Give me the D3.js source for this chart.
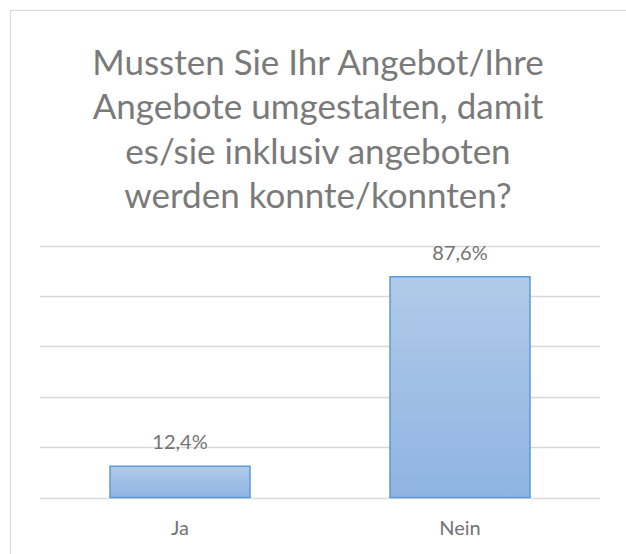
<!DOCTYPE html>
<html>
<head>
<meta charset="utf-8">
<script src="https://cdn.jsdelivr.net/npm/d3@7"></script>
<style>
  html, body { margin: 0; padding: 0; background: #fff; }
  svg { display: block; }
</style>
</head>
<body>
<svg id="chart" width="626" height="554"></svg>
<script>
// Survey answers and their shares in percent
const categories = ["Ja", "Nein"];
const values = [12.4, 87.6];
const valueLabels = ["12,4%", "87,6%"];
const gridTicks = [0, 20, 40, 60, 80, 100];
const titleLines = [
  "Mussten Sie Ihr Angebot/Ihre",
  "Angebote umgestalten, damit",
  "es/sie inklusiv angeboten",
  "werden konnte/konnten?"
];

const font = "Lato, 'Open Sans', sans-serif";
const textColor = "#737373";

const svg = d3.select("#chart");

// chart area frame (runs off the right and bottom edges)
svg.append("rect")
  .attr("x", 10.5).attr("y", 10.5)
  .attr("width", 640).attr("height", 600)
  .attr("fill", "#fff")
  .attr("stroke", "#d9d9d9")
  .attr("stroke-width", 1.2);

// gradient fill for the bars
const defs = svg.append("defs");
const grad = defs.append("linearGradient")
  .attr("id", "barFill")
  .attr("x1", 0).attr("y1", 0).attr("x2", 0).attr("y2", 1);
grad.append("stop").attr("offset", "0%").attr("stop-color", "#b1cae9");
grad.append("stop").attr("offset", "100%").attr("stop-color", "#8fb4e2");

// title
svg.append("text")
  .attr("x", 318)
  .attr("y", 75)
  .attr("text-anchor", "middle")
  .attr("font-family", font)
  .attr("font-size", 35)
  .attr("fill", "#7a7a7a")
  .selectAll("tspan")
  .data(titleLines)
  .join("tspan")
  .attr("x", 318)
  .attr("dy", (d, i) => i === 0 ? 0 : 44.4)
  .text(d => d);

// scales
const x = d3.scaleBand()
  .domain(categories)
  .range([40, 600])
  .paddingInner(0.5)
  .paddingOuter(0.25);

const y = d3.scaleLinear()
  .domain([0, 100])
  .range([497.5, 245.5]);

// horizontal gridlines
svg.append("g")
  .selectAll("line")
  .data(gridTicks)
  .join("line")
  .attr("x1", 40).attr("x2", 600)
  .attr("y1", d => Math.round(y(d)) + 0.5)
  .attr("y2", d => Math.round(y(d)) + 0.5)
  .attr("stroke", "#d9d9d9")
  .attr("stroke-width", 1.3);

// bars
svg.append("g")
  .selectAll("rect")
  .data(values)
  .join("rect")
  .attr("x", (d, i) => x(categories[i]))
  .attr("y", d => y(d))
  .attr("width", x.bandwidth())
  .attr("height", d => y(0) - y(d))
  .attr("fill", "url(#barFill)")
  .attr("stroke", "#5b9bd5")
  .attr("stroke-width", 1.5);

// value labels above the bars
svg.append("g")
  .selectAll("text")
  .data(values)
  .join("text")
  .attr("x", (d, i) => x(categories[i]) + x.bandwidth() / 2)
  .attr("y", d => y(d) - 17)
  .attr("text-anchor", "middle")
  .attr("font-family", font)
  .attr("font-size", 20)
  .attr("fill", textColor)
  .text((d, i) => valueLabels[i]);

// category axis labels
const xAxis = d3.axisBottom(x).tickSize(0).tickPadding(0);
const axisG = svg.append("g")
  .attr("transform", `translate(0, ${y(0)})`)
  .call(xAxis);
axisG.select(".domain").remove();
axisG.selectAll("text")
  .attr("dy", 0)
  .attr("y", 37.5)
  .attr("font-family", font)
  .attr("font-size", 20)
  .attr("fill", textColor);
</script>
</body>
</html>
